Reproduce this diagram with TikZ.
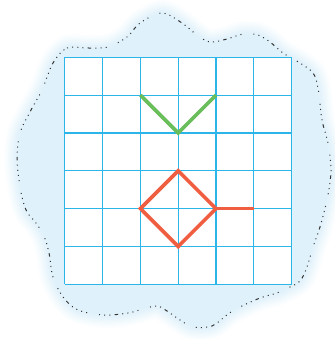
\documentclass[tikz,border=0pt]{standalone}
\begin{document}
\begin{tikzpicture}[x=1pt,y=-1pt,
  gridline/.style={draw=gridblue,line width=1.15pt},
  greenline/.style={draw=vgreen,line width=3.6pt,line join=miter},
  redline/.style={draw=dred,line width=3.6pt,line join=miter},
  outline/.style={draw=black!80,line width=1pt,dash pattern=on 1pt off 4.2pt on 1pt off 4.2pt on 1pt off 4.2pt on 1pt off 4.2pt on 3.5pt off 4.2pt on 1pt off 4.2pt on 1pt off 4.2pt on 1pt off 12pt}]
\definecolor{gridblue}{HTML}{2BB5E8}
\definecolor{vgreen}{HTML}{6ABD5B}
\definecolor{dred}{HTML}{F05E41}
\definecolor{cloud}{HTML}{DFF1FA}
\useasboundingbox (0,0) rectangle (334,339);
\def\cloudpath{plot[smooth cycle,tension=0.55] coordinates {(53,63) (67,48) (88,48) (108,47) (127,37) (140,23) (162,13) (182,23) (197,35) (210,42) (227,39) (243,34) (258,35) (270,42) (283,53) (300,63) (313,73) (318,88) (322,120) (328,143) (331,167) (330,182) (327,200) (320,227) (313,247) (307,267) (300,281) (288,288) (277,293) (260,298) (240,307) (228,314) (212,326) (193,327) (180,320) (167,311) (157,306) (143,309) (128,313) (104,315) (78,310) (63,297) (53,277) (49,253) (44,236) (36,223) (27,212) (22,197) (19,180) (17,158) (20,133) (31,110) (42,90)}}
\foreach \w/\o in {26/0.12,22/0.14,18/0.18,14/0.25,10/0.35,6/0.5} {
  \draw[cloud,line width=\w pt,opacity=\o,line join=round] \cloudpath;
}
\fill[cloud] \cloudpath;
\draw[outline] \cloudpath;
\fill[white] (64.7,57.3) rectangle (291.7,284.3);
\foreach \i in {0,...,6} {
  \draw[gridline] ({64.7+37.83*\i},57.3) -- ({64.7+37.83*\i},284.3);
  \draw[gridline] (64.7,{57.3+37.83*\i}) -- (291.7,{57.3+37.83*\i});
}
\coordinate (g1) at (140.4,95.1);
\coordinate (g2) at (178.2,133.0);
\coordinate (g3) at (216.0,95.1);
\draw[greenline] (g1) -- (g2) -- (g3);
\coordinate (rt) at (178.2,170.8);
\coordinate (rl) at (140.4,208.6);
\coordinate (rb) at (178.2,246.5);
\coordinate (rr) at (216.0,208.6);
\coordinate (re) at (253.8,208.6);
\draw[redline] (rt) -- (rr) -- (rb) -- (rl) -- cycle;
\draw[redline] (rr) -- (re);
\end{tikzpicture}
\end{document}
